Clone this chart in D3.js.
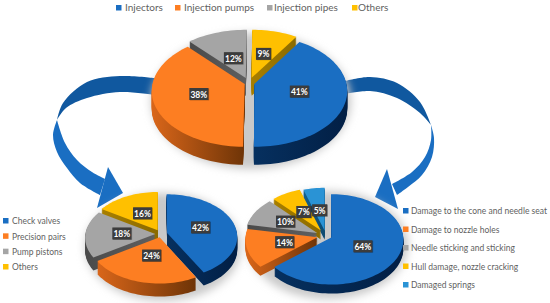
<!DOCTYPE html>
<html>
<head>
<meta charset="utf-8">
<script src="https://cdn.jsdelivr.net/npm/d3@7"></script>
<style>
  html, body { margin: 0; padding: 0; background: #fff; }
  svg { display: block; }
  text { font-family: Lato, "Open Sans", sans-serif; }
</style>
</head>
<body>
<svg id="chart" width="550" height="303"></svg>
<script>
// Chart data
const topLabels = ["Injectors", "Injection pumps", "Injection pipes", "Others"];
const topValues = [41, 38, 12, 9];
const leftLabels = ["Check valves", "Precision pairs", "Pump pistons", "Others"];
const leftValues = [42, 24, 18, 16];
const rightLabels = ["Damage to the cone and needle seat", "Damage to nozzle holes", "Needle sticking and sticking", "Hull damage, nozzle cracking", "Damaged springs"];
const rightValues = [64, 14, 10, 7, 5];

// Colours
const faceColors = ["#1a6ec2", "#fd7e22", "#a5a5a5", "#ffc000", "#2a93d5"];
const sideFrom = ["#06305f", "#d9661a", "#4a4a4a", "#a87f00", "#14608f"];
const sideTo = ["#021f45", "#6e3407", "#5f5f5f", "#8a6a00", "#0d4a70"];

// Layout of the three pies
const pies = [
  { id: "top", values: topValues, cx: 249, cy: 83, rx: 92, ry: 55, k: 0.12, depth: 18, start: 33,
    explode: [0.06, 0.05, 0.1, 0.1], labelR: [0.5, 0.52, 0.4, 0.48], shadowRy: 68 },
  { id: "left", values: leftValues, cx: 161, cy: 234, rx: 70, ry: 42, k: 0.08, depth: 13, start: 0,
    explode: [0.09, 0.08, 0.08, 0.1], labelR: [0.5, 0.44, 0.48, 0.47], shadowRy: 54 },
  { id: "right", values: rightValues, cx: 326, cy: 236, rx: 72, ry: 45, k: 0.04, depth: 9, start: 0,
    explode: [0.08, 0.12, 0.14, 0.14, 0.12], labelR: [0.48, 0.47, 0.51, 0.48, 0.46], shadowRy: 54 }
];

const svg = d3.select("#chart");
const defs = svg.append("defs");

const blur = defs.append("filter").attr("id", "soft")
  .attr("x", "-20%").attr("y", "-20%").attr("width", "140%").attr("height", "140%");
blur.append("feGaussianBlur").attr("stdDeviation", 4);

const textShadow = defs.append("filter").attr("id", "boxShadow")
  .attr("x", "-30%").attr("y", "-30%").attr("width", "160%").attr("height", "160%");
textShadow.append("feGaussianBlur").attr("stdDeviation", 0.7);

// side gradients
faceColors.forEach((c, i) => {
  const g = defs.append("linearGradient").attr("id", "side" + i);
  g.append("stop").attr("offset", "0%").attr("stop-color", sideFrom[i]);
  g.append("stop").attr("offset", "100%").attr("stop-color", sideTo[i]);
});

// Arrows, behind the pies
const arrowLine = d3.line().curve(d3.curveCatmullRom.alpha(0.5));

const leftDarkOuter = [[155, 78], [120, 76], [87, 82], [63, 103], [57, 120]];
const leftDarkInner = [[57, 120], [66, 108], [87, 98], [120, 92], [155, 95]];
const leftOuter = [[57, 120], [53, 135], [57, 152], [67, 168], [80, 183], [100, 195]];
const leftInner = [[105, 179], [92, 172], [77, 160], [65, 143], [57, 120]];
const leftHead = [[108, 167], [123, 193], [97, 208]];

const rightDarkOuter = [[345, 81], [370, 77], [397, 83], [420, 102], [431, 125]];
const rightDarkInner = [[431, 125], [420, 113], [397, 98], [370, 91], [345, 94]];
const rightOuter = [[431, 125], [434, 138], [432, 157], [422, 175], [408, 187], [397, 195]];
const rightInner = [[392, 184], [412, 172], [425, 157], [431, 140], [431, 125]];
const rightHead = [[387, 169], [375, 197], [398, 209]];

function drawArrow(darkA, darkB, lightA, lightB, head) {
  svg.append("path")
    .attr("d", arrowLine(darkA) + "L" + arrowLine(darkB).slice(1) + "Z")
    .attr("fill", "#10589f");
  svg.append("path")
    .attr("d", arrowLine(lightA) + "L" + arrowLine(lightB).slice(1) + "Z")
    .attr("fill", "#1a6ec2");
  svg.append("path")
    .attr("d", d3.line()(head) + "Z")
    .attr("fill", "#1a6ec2");
}
drawArrow(leftDarkOuter, leftDarkInner, leftOuter, leftInner, leftHead);
drawArrow(rightDarkOuter, rightDarkInner, rightOuter, rightInner, rightHead);

// Projects a point of the unit disc to the tilted plate
function project(p, u, v) {
  const s = 1 / (1 - p.k * v);
  return [p.cx + p.rx * u * s, p.cy + p.ry * v * s];
}

function slicePath(p, d, i) {
  const e = p.explode[i];
  const mid = (d.startAngle + d.endAngle) / 2;
  const ox = Math.sin(mid) * e;
  const oy = -Math.cos(mid) * e;
  const pts = [project(p, ox, oy)];
  const steps = Math.ceil((d.endAngle - d.startAngle) / 0.04);
  for (let s = 0; s <= steps; s++) {
    const a = d.startAngle + (d.endAngle - d.startAngle) * s / steps;
    pts.push(project(p, ox + Math.sin(a), oy - Math.cos(a)));
  }
  return d3.line()(pts) + "Z";
}

pies.forEach(p => {
  const g = svg.append("g").attr("class", "pie-" + p.id);

  // soft shadow under the plate
  g.append("ellipse")
    .attr("cx", p.cx + 2)
    .attr("cy", p.cy + p.depth)
    .attr("rx", p.rx + 8)
    .attr("ry", p.shadowRy)
    .attr("fill", "#c9c9c9")
    .attr("filter", "url(#soft)");

  const start = p.start * Math.PI / 180;
  const arcs = d3.pie().sort(null)
    .startAngle(start).endAngle(start + 2 * Math.PI)(p.values)
    .map((d, i) => ({ d, i, mid: (d.startAngle + d.endAngle) / 2 }));

  // back slices first
  const order = arcs.slice().sort((a, b) => Math.cos(b.mid) - Math.cos(a.mid));

  order.forEach(({ d, i }) => {
    const path = slicePath(p, d, i);
    for (let h = p.depth; h > 0; h--) {
      g.append("path")
        .attr("d", path)
        .attr("transform", `translate(0,${h})`)
        .attr("fill", `url(#side${i})`);
    }
    g.append("path").attr("d", path).attr("fill", faceColors[i]);
  });

  // value labels
  arcs.forEach(({ d, i, mid }) => {
    const e = p.explode[i];
    const r = p.labelR[i] + e;
    const [x, y] = project(p, Math.sin(mid) * r, -Math.cos(mid) * r);
    const w = d.data < 10 ? 15 : 19;
    g.append("rect")
      .attr("x", x - w / 2 + 0.8).attr("y", y - 6.2)
      .attr("width", w).attr("height", 12)
      .attr("fill", "#000").attr("opacity", 0.35)
      .attr("filter", "url(#boxShadow)");
    g.append("rect")
      .attr("x", x - w / 2).attr("y", y - 6.5)
      .attr("width", w).attr("height", 12)
      .attr("fill", "#3c3c3c");
    g.append("text")
      .attr("x", x).attr("y", y + 3)
      .attr("text-anchor", "middle")
      .attr("font-size", 8.5)
      .attr("font-weight", 700)
      .attr("fill", "#fff")
      .text(d.data + "%");
  });
});

// Legends
function legendItem(label, color, sx, tx, y, size) {
  svg.append("rect")
    .attr("x", sx).attr("y", y - 3)
    .attr("width", 5.5).attr("height", 5.5)
    .attr("fill", color);
  svg.append("text")
    .attr("x", tx).attr("y", y + 3.2)
    .attr("font-size", size)
    .attr("fill", "#5f5f5f")
    .text(label);
}

const topSquareX = [116, 175, 267, 352];
const topTextX = [125, 184, 274, 358];
topLabels.forEach((t, i) => legendItem(t, faceColors[i], topSquareX[i], topTextX[i], 8, 10));

const leftLegendY = d3.scalePoint().domain(leftLabels).range([221, 267]);
leftLabels.forEach((t, i) => legendItem(t, faceColors[i], 3, 12, leftLegendY(t), 8.5));

const rightLegendY = d3.scalePoint().domain(rightLabels).range([211, 285]);
rightLabels.forEach((t, i) => legendItem(t, faceColors[i], 403, 411, rightLegendY(t), 8.5));
</script>
</body>
</html>
